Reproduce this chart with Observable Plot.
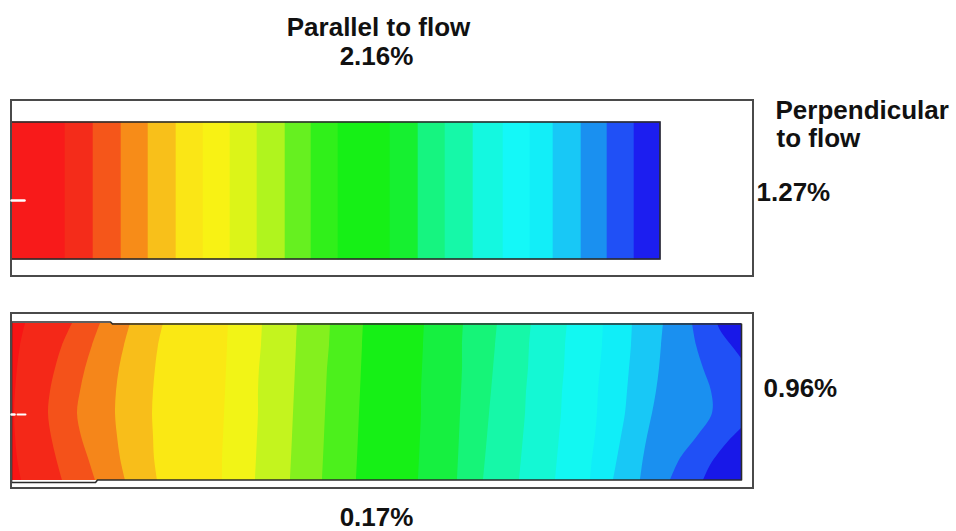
<!DOCTYPE html>
<html><head><meta charset="utf-8">
<script src="https://cdn.jsdelivr.net/npm/d3@7"></script>
<script src="https://cdn.jsdelivr.net/npm/@observablehq/plot@0.6"></script>
<style>
html,body{margin:0;padding:0;background:#fff;}
</style></head><body><div id="chart"></div>
<script>
// ---- Data (units: original picture pixels) ----
// Top plate (flow parallel): vertical contour band edges and fills
const topBandEdges = [12, 65, 93, 121, 148, 176, 203, 230, 257, 285, 311, 338, 390, 418, 445, 473, 503, 530, 553, 581, 607, 634, 660];
const topBandColors = ["#f81a1a","#f42c1a","#f5561a","#f78c18","#f8c01a","#fae616","#f8f214","#dcf418","#b0f41e","#66f020","#30f01a","#16f016","#16f030","#16f480","#16f8a8","#14f8e0","#14f8f8","#12eef8","#18c8f6","#1a90f0","#2050f6","#1c1ef0"];

// Bottom plate: contour lines sampled at these heights
const bottomY = [323, 345, 368, 391, 413, 436, 458, 480];
const bottomContours = [
  [25, 20, 17, 15, 14, 15, 17, 21],
  [72, 62, 55, 50, 48, 51, 56, 62],
  [100, 92, 85, 80, 77, 81, 88, 95],
  [130, 124, 119, 116, 115, 117, 120, 125],
  [163, 158, 155, 153, 152, 153, 154, 157],
  [228, 227, 226, 225, 224, 223, 222, 222],
  [262, 261, 259, 258, 258, 257, 256, 255],
  [297, 296, 295, 294, 293, 292, 291, 290],
  [330, 329, 327, 326, 325, 324, 323, 322],
  [363, 362, 361, 360, 359, 358, 357, 356],
  [424, 423, 422, 421, 421, 420, 419, 418],
  [463, 462, 462, 461, 460, 459, 458, 457],
  [497, 495, 493, 491, 489, 487, 485, 483],
  [531, 529, 528, 526, 525, 523, 521, 519],
  [567, 565, 564, 562, 561, 559, 557, 555],
  [603, 602, 600, 598, 597, 595, 592, 590],
  [632, 631, 629, 627, 625, 621, 617, 613],
  [663, 661, 659, 656, 652, 647, 643, 640],
  [692, 696, 703, 711, 712, 697, 680, 670]
];
const bottomBandColors = ["#f81414","#f42818","#f4521a","#f5861a","#f8be1a","#fae814","#f2f416","#c4f41e","#84f01e","#4cf01c","#16f016","#16f040","#16f478","#16f8a8","#14f8d4","#12f8f2","#10eef8","#18c8f6","#1a90f0","#2050f6"];
const cornerColor = "#1818e8";
const cornerTopY = [323, 330, 340, 350, 358];
const cornerTopX = [717, 720, 727, 735, 741];
const cornerBottomY = [428, 440, 452, 465, 480];
const cornerBottomX = [741, 729, 719, 710, 703];

// Plate geometry
const topOuter = [11, 753, 100, 276];
const topInner = [11, 660, 122, 259];
const bottomOuter = [11, 753, 313, 488];
const bottomInnerRight = 741;
const bottomInnerOutline = [[11,321.5],[110,321.5],[112,323.5],[741,323.5],[741,479.5],[97,479.5],[95,482],[11,482],[11,321.5]];

// Labels
const labelTexts = ["Parallel to flow", "2.16%", "Perpendicular", "to flow", "1.27%", "0.96%", "0.17%"];

// ---- Build mark tables ----
const topBands = topBandColors.map((c, i) => ({x1: topBandEdges[i], x2: topBandEdges[i + 1], fill: c}));
const bottomRows = [];
bottomContours.forEach((xs, k) => {
  bottomY.forEach((y, j) => bottomRows.push({k, y, x1: xs[j], x2: bottomInnerRight, fill: bottomBandColors[k + 1]}));
});
const cornerRows = [
  ...cornerTopY.map((y, j) => ({k: "t", y, x1: cornerTopX[j], x2: bottomInnerRight, fill: cornerColor})),
  ...cornerBottomY.map((y, j) => ({k: "b", y, x1: cornerBottomX[j], x2: bottomInnerRight, fill: cornerColor}))
];
const labels = [
  {t: labelTexts[0], x: 378, y: 27, a: "middle"},
  {t: labelTexts[1], x: 376, y: 56, a: "middle"},
  {t: labelTexts[2], x: 775, y: 110, a: "start"},
  {t: labelTexts[3], x: 776, y: 138, a: "start"},
  {t: labelTexts[4], x: 756, y: 192, a: "start"},
  {t: labelTexts[5], x: 763, y: 388, a: "start"},
  {t: labelTexts[6], x: 376, y: 517, a: "middle"}
];
const boxes = [
  {x1: topOuter[0], x2: topOuter[1], y1: topOuter[2], y2: topOuter[3]},
  {x1: bottomOuter[0], x2: bottomOuter[1], y1: bottomOuter[2], y2: bottomOuter[3]}
];
const outline = bottomInnerOutline.map(([x, y]) => ({x, y}));

const font = "'Liberation Sans', Arial, Helvetica, sans-serif";
const chart = Plot.plot({
  width: 956, height: 531, margin: 0,
  x: {domain: [0, 956], range: [0, 956], axis: null},
  y: {domain: [0, 531], range: [0, 531], axis: null},
  color: {type: "identity"},
  style: {background: "#fff", fontFamily: font},
  marks: [
    // top plate
    Plot.rect(topBands, {x1: "x1", x2: "x2", y1: topInner[2], y2: topInner[3], fill: "fill", inset: -0.3}),
    Plot.rect([{}], {x1: topInner[0], x2: topInner[1], y1: topInner[2], y2: topInner[3], fill: "none", stroke: "#2b2b2b", strokeWidth: 1.6}),
    // bottom plate
    Plot.rect([{}], {x1: 11, x2: 110, y1: bottomY[0], y2: bottomY[bottomY.length - 1], fill: bottomBandColors[0]}),
    Plot.areaX(bottomRows, {y: "y", x1: "x1", x2: "x2", z: "k", fill: "fill", curve: "catmull-rom"}),
    Plot.areaX(cornerRows, {y: "y", x1: "x1", x2: "x2", z: "k", fill: "fill", curve: "catmull-rom"}),
    Plot.line(outline, {x: "x", y: "y", stroke: "#2b2b2b", strokeWidth: 1.6, curve: "linear"}),
    // outer mould boxes
    Plot.rect(boxes, {x1: "x1", x2: "x2", y1: "y1", y2: "y2", fill: "none", stroke: "#4a4a4a", strokeWidth: 2}),
    // gate markers
    Plot.line([{x: 11, y: 200}, {x: 24, y: 200}], {x: "x", y: "y", stroke: "#fff", strokeWidth: 2.5}),
    Plot.line([{x: 11, y: 414}, {x: 14, y: 414}], {x: "x", y: "y", stroke: "#fff", strokeWidth: 2.5}),
    Plot.line([{x: 17, y: 414}, {x: 25, y: 414}], {x: "x", y: "y", stroke: "#fff", strokeWidth: 2}),
    // labels
    Plot.text(labels.filter(d => d.a === "middle"), {x: "x", y: "y", text: "t", textAnchor: "middle", lineAnchor: "middle", fontSize: 26, fontWeight: "bold", fill: "#111"}),
    Plot.text(labels.filter(d => d.a === "start"), {x: "x", y: "y", text: "t", textAnchor: "start", lineAnchor: "middle", fontSize: 26, fontWeight: "bold", fill: "#111"})
  ]
});
document.getElementById("chart").appendChild(chart);
</script>
</body></html>
